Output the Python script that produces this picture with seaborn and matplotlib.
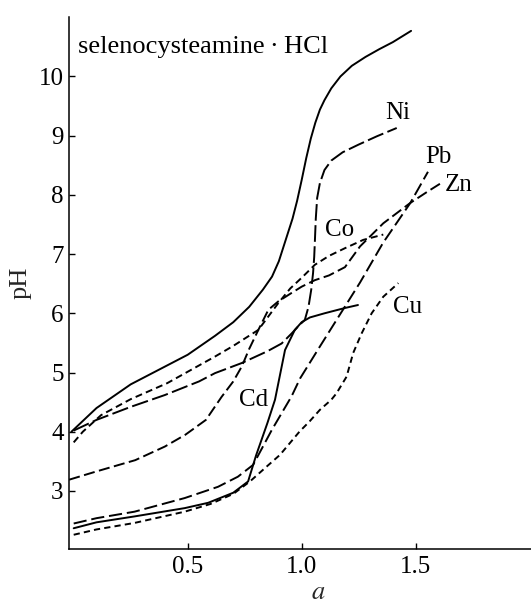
import matplotlib
matplotlib.use("Agg")
import matplotlib.pyplot as plt
import seaborn as sns

# ---- data ----
lig_x = [-0.01, 0.1, 0.25, 0.4, 0.5, 0.62, 0.7, 0.77, 0.83, 0.87, 0.9, 0.93, 0.96, 0.98, 1.0, 1.02,
         1.04, 1.06, 1.08, 1.1, 1.13, 1.17, 1.22, 1.28, 1.34, 1.4, 1.48]
lig_y = [4.0, 4.4, 4.8, 5.1, 5.3, 5.62, 5.85, 6.11, 6.4, 6.62, 6.88, 7.24, 7.6, 7.9, 8.25, 8.62,
         8.95, 9.22, 9.44, 9.6, 9.8, 10.0, 10.18, 10.33, 10.46, 10.58, 10.77]

ni_x = [0.0, 0.1, 0.25, 0.4, 0.55, 0.62, 0.737, 0.85, 0.912, 0.956, 0.99, 1.014, 1.03, 1.042, 1.05,
        1.055, 1.058, 1.062, 1.068, 1.08, 1.1, 1.13, 1.18, 1.25, 1.33, 1.417]
ni_y = [4.02, 4.2, 4.42, 4.62, 4.85, 4.99, 5.16, 5.36, 5.49, 5.66, 5.8, 5.89, 6.11, 6.4, 6.68,
        6.95, 7.22, 7.6, 7.95, 8.2, 8.42, 8.58, 8.72, 8.85, 8.99, 9.13]

zn_x = [-0.02, 0.1, 0.27, 0.4, 0.49, 0.58, 0.649, 0.7, 0.737, 0.77, 0.81, 0.854, 0.897, 0.95, 1.0,
        1.058, 1.12, 1.19, 1.256, 1.358, 1.475, 1.55, 1.62]
zn_y = [3.19, 3.33, 3.52, 3.75, 3.95, 4.2, 4.59, 4.85, 5.1, 5.4, 5.72, 6.06, 6.2, 6.33, 6.45,
        6.56, 6.64, 6.78, 7.13, 7.52, 7.86, 8.05, 8.22]

co_x = [0.0, 0.04, 0.12, 0.25, 0.41, 0.55, 0.62, 0.7, 0.81, 0.897, 0.95, 1.0, 1.058, 1.12, 1.19, 1.27, 1.358]
co_y = [3.82, 4.0, 4.28, 4.55, 4.82, 5.12, 5.27, 5.45, 5.72, 6.17, 6.42, 6.6, 6.82, 6.97, 7.1, 7.24, 7.33]

pb_x = [0.0, 0.1, 0.267, 0.487, 0.633, 0.72, 0.787, 0.869, 0.956, 0.993, 1.08, 1.168, 1.256, 1.357,
        1.476, 1.554]
pb_y = [2.45, 2.54, 2.65, 2.88, 3.07, 3.24, 3.44, 4.03, 4.6, 4.9, 5.44, 5.98, 6.52, 7.19, 7.86, 8.39]

cd_x = [0.0, 0.1, 0.267, 0.487, 0.59, 0.7, 0.765, 0.8, 0.85, 0.883, 0.927, 0.97, 1.0, 1.036, 1.1,
        1.19, 1.247]
cd_y = [2.37, 2.47, 2.57, 2.71, 2.8, 2.97, 3.16, 3.6, 4.15, 4.54, 5.38, 5.72, 5.85, 5.93, 6.0,
        6.09, 6.14]

cu_x = [0.0, 0.1, 0.267, 0.487, 0.6, 0.7, 0.773, 0.846, 0.905, 0.99, 1.036, 1.08, 1.13, 1.153,
        1.197, 1.226, 1.263, 1.307, 1.358, 1.424]
cu_y = [2.26, 2.35, 2.46, 2.65, 2.78, 2.95, 3.16, 3.41, 3.61, 4.0, 4.18, 4.37, 4.54, 4.65,
        4.93, 5.33, 5.66, 6.0, 6.28, 6.51]

labels = ["Ni", "Pb", "Zn", "Co", "Cu", "Cd"]
label_x = [1.42, 1.6, 1.69, 1.168, 1.466, 0.787]
label_y = [9.38, 8.64, 8.17, 7.41, 6.11, 4.54]

xticks = [0.5, 1.0, 1.5]
yticks = [3, 4, 5, 6, 7, 8, 9, 10]
title_text = "selenocysteamine\u2009\u00b7\u2009HCl"

# ---- style ----
sns.set_style("ticks")
plt.rcParams["font.family"] = ["Liberation Serif", "DejaVu Serif"]
plt.rcParams["mathtext.fontset"] = "stix"
plt.rcParams["lines.scale_dashes"] = False

fig = plt.figure(figsize=(5.31, 6.06), dpi=100)
ax = fig.add_axes([0.1305, 0.0941, 0.8695, 0.8784])

lw = 1.4
curves = [
    (lig_x, lig_y, "-"),
    (ni_x, ni_y, (0, (12, 3.2))),
    (zn_x, zn_y, (0, (8, 3.2))),
    (co_x, co_y, (0, (5, 3))),
    (pb_x, pb_y, (0, (9.5, 3.5))),
    (cd_x, cd_y, "-"),
    (cu_x, cu_y, (0, (4.5, 3))),
]
for cx, cy, ls in curves:
    sns.lineplot(x=cx, y=cy, ax=ax, color="black", lw=lw, sort=False,
                 estimator=None, linestyle=ls)

for t, lx, ly in zip(labels, label_x, label_y):
    ax.text(lx, ly, t, fontsize=18, ha="center", va="center", color="black")

ax.text(0.02, 10.5, title_text, fontsize=19, ha="left", va="center", color="black")

ax.set_xlim(-0.0193, 2.006)
ax.set_ylim(2.02, 11.01)
ax.set_xticks(xticks)
ax.set_xticklabels([f"{v:.1f}" for v in xticks])
ax.set_yticks(yticks)
ax.set_yticklabels([str(v) for v in yticks])

for s in ["top", "right"]:
    ax.spines[s].set_visible(False)
for s in ["left", "bottom"]:
    ax.spines[s].set_linewidth(1.1)
    ax.spines[s].set_color("black")

ax.tick_params(axis="both", direction="in", length=4, width=1, colors="black",
               labelsize=18)
ax.tick_params(axis="x", pad=5)
ax.tick_params(axis="y", pad=4)

ax.set_xlabel("$a$", fontsize=19)
ax.set_ylabel("pH", fontsize=19)
ax.xaxis.label.set_va("baseline")
ax.xaxis.set_label_coords(0.539, -0.094)
ax.yaxis.set_label_coords(-0.081, 0.5)

fig.savefig("out.png", dpi=100, facecolor="white")
